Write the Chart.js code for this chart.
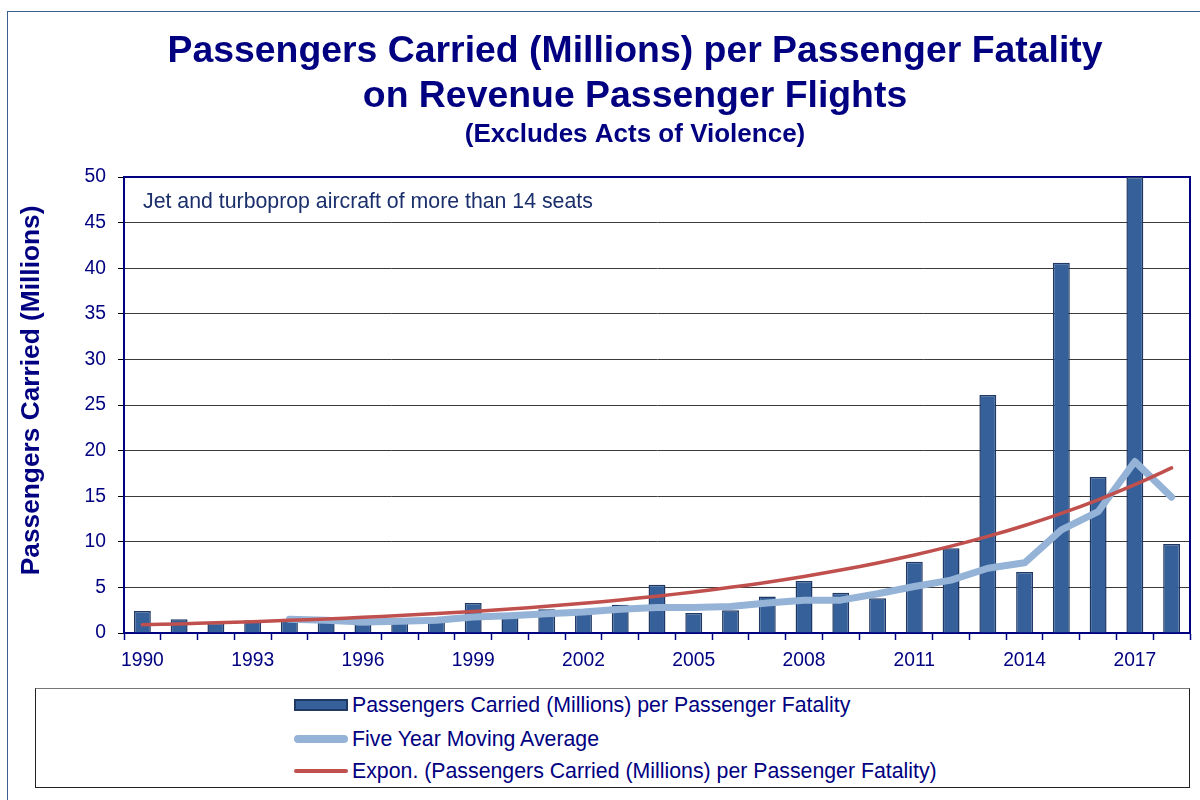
<!DOCTYPE html>
<html><head><meta charset="utf-8">
<script src="https://cdn.jsdelivr.net/npm/chart.js@4.4.1/dist/chart.umd.min.js"></script>
<style>
html,body{margin:0;padding:0;background:#fff;overflow:hidden;width:1200px;height:800px}
#frame{position:absolute;left:7px;top:11px;width:1300px;height:900px;border-left:1.5px solid #3a5f8f;border-top:1.5px solid #3a5f8f}
#c{position:absolute;left:0;top:0}
#legend{position:absolute;left:35px;top:688px;width:1155px;height:100px;border:1px solid #222;border-top-color:#777;box-sizing:border-box;font-family:'Liberation Sans',Arial,sans-serif;font-size:21.3px;color:#000080;background:#fff}
.item{position:absolute;left:258px;height:26px;display:flex;align-items:center;white-space:nowrap}
.sw{width:54px;margin-right:4px;box-sizing:border-box}
</style></head><body>
<div id="frame"></div>
<canvas id="c" width="1200" height="800"></canvas>
<div id="legend"></div>
<script>
const years = ['1990','1991','1992','1993','1994','1995','1996','1997','1998','1999',
  '2000','2001','2002','2003','2004','2005','2006','2007','2008','2009',
  '2010','2011','2012','2013','2014','2015','2016','2017','2018'];
const xTickLabels = ['1990','1993','1996','1999','2002','2005','2008','2011','2014','2017'];
const passengersPerFatality = [2.4,1.5,1.1,1.4,1.5,1.5,1.0,1.2,1.3,3.3,
  2.1,2.6,2.2,3.1,5.3,2.2,2.5,4.0,5.7,4.4,
  3.8,7.8,9.3,26.1,6.7,40.6,17.1,50,9.75];
const fiveYearMovingAverage = [null,null,null,null,1.5,1.4,1.2,1.3,1.4,1.75,
  1.9,2.1,2.3,2.6,2.8,2.8,2.9,3.3,3.6,3.6,
  4.3,5.1,5.8,7.1,7.7,11.3,13.3,18.8,14.9];
const exponentialTrend = [0.90,1.00,1.12,1.24,1.39,1.54,1.72,1.91,2.13,2.37,
  2.63,2.93,3.26,3.63,4.04,4.50,5.01,5.57,6.20,6.90,
  7.68,8.55,9.52,10.59,11.79,13.12,14.61,16.26,18.10];
const titleLines = ['Passengers Carried (Millions) per Passenger Fatality','on Revenue Passenger Flights'];
const subtitleText = '(Excludes Acts of Violence)';
const yAxisTitle = 'Passengers Carried (Millions)';
const noteText = 'Jet and turboprop aircraft of more than 14 seats';

const FONT = "'Liberation Sans', Arial, sans-serif";
const NAVY = '#000080';

const framePlugin = {
  id:'frame',
  beforeDatasetsDraw(chart){
    const {ctx, chartArea:a} = chart;
    ctx.save();
    ctx.strokeStyle = NAVY; ctx.lineWidth = 2;
    ctx.beginPath();
    ctx.moveTo(a.left, a.top); ctx.lineTo(a.right, a.top); ctx.lineTo(a.right, a.bottom);
    ctx.stroke();
    ctx.restore();
  }
};
const notePlugin = {
  id:'note',
  afterDatasetsDraw(chart){
    const {ctx, chartArea:a} = chart;
    ctx.save();
    ctx.font = '21.3px ' + FONT;
    ctx.fillStyle = '#1a2f6b';
    ctx.textBaseline = 'middle';
    ctx.fillText(noteText, a.left + 19, a.top + 25);
    ctx.restore();
  }
};

const chart = new Chart(document.getElementById('c'), {
  type:'bar',
  data:{
    labels:years,
    datasets:[
      {type:'bar', label:'Passengers Carried (Millions) per Passenger Fatality', data:passengersPerFatality,
        backgroundColor:'#36609a', borderColor:'#1f3864', borderWidth:1.5, barPercentage:0.46, categoryPercentage:1, order:3},
      {type:'line', label:'Five Year Moving Average', data:fiveYearMovingAverage,
        borderColor:'#95b3d7', backgroundColor:'#95b3d7', borderWidth:7, pointRadius:0, tension:0, fill:false,
        borderCapStyle:'round', borderJoinStyle:'round', order:2},
      {type:'line', label:'Expon. (Passengers Carried (Millions) per Passenger Fatality)', data:exponentialTrend,
        borderColor:'#c0504d', backgroundColor:'#c0504d', borderWidth:3.5, pointRadius:0, tension:0.4, fill:false,
        borderCapStyle:'round', order:1}
    ]
  },
  options:{
    responsive:false, animation:false, devicePixelRatio:1,
    layout:{padding:{left:80,right:10,top:0,bottom:127}},
    plugins:{
      legend:{display:false},
      tooltip:{enabled:false},
      title:{display:true, text:titleLines, color:NAVY,
        font:{family:FONT, size:37.4, weight:'bold', lineHeight:45/37.4}, padding:{top:29.5,bottom:0}},
      subtitle:{display:true, text:subtitleText, color:NAVY,
        font:{family:FONT, size:26, weight:'bold', lineHeight:1}, padding:{top:2.5,bottom:29}}
    },
    scales:{
      x:{
        offset:true,
        grid:{display:true, offset:true, drawOnChartArea:false, drawTicks:true, tickLength:7, tickColor:NAVY, tickWidth:1.5},
        border:{color:NAVY, width:2},
        ticks:{autoSkip:false, maxRotation:0, minRotation:0, color:NAVY, font:{family:FONT, size:19.3}, padding:9,
          callback:function(v){ const l = this.getLabelForValue(v); return xTickLabels.includes(l) ? l : ''; }},
        afterFit:(s)=>{ s.height = 40; }
      },
      y:{
        min:0, max:50,
        ticks:{stepSize:5, color:NAVY, font:{family:FONT, size:19.3}, padding:12},
        grid:{color:'#3a3a3a', lineWidth:1, tickLength:6, tickColor:'#000'},
        border:{color:NAVY, width:2},
        title:{display:true, text:'    ' + yAxisTitle, color:NAVY,
          font:{family:FONT, size:26.3, weight:'bold', lineHeight:1.2}, padding:{top:-64,bottom:0}},
        afterFit:(s)=>{ s.width = 44; }
      }
    }
  },
  plugins:[framePlugin, notePlugin]
});

// HTML legend generated from the chart's datasets
const legend = document.getElementById('legend');
const centers = [16, 50, 82];
chart.data.datasets.forEach((ds, i) => {
  const item = document.createElement('div');
  item.className = 'item';
  item.style.top = (centers[i] - 13) + 'px';
  const sw = document.createElement('span');
  sw.className = 'sw';
  if (ds.type === 'bar') {
    sw.style.height = '12px'; sw.style.background = ds.backgroundColor; sw.style.border = '2px solid ' + ds.borderColor;
  } else {
    sw.style.height = (ds.borderWidth + 0.5) + 'px'; sw.style.background = ds.borderColor; sw.style.borderRadius = '4px';
  }
  const tx = document.createElement('span');
  tx.textContent = ds.label;
  item.appendChild(sw); item.appendChild(tx);
  legend.appendChild(item);
});
</script>
</body></html>
